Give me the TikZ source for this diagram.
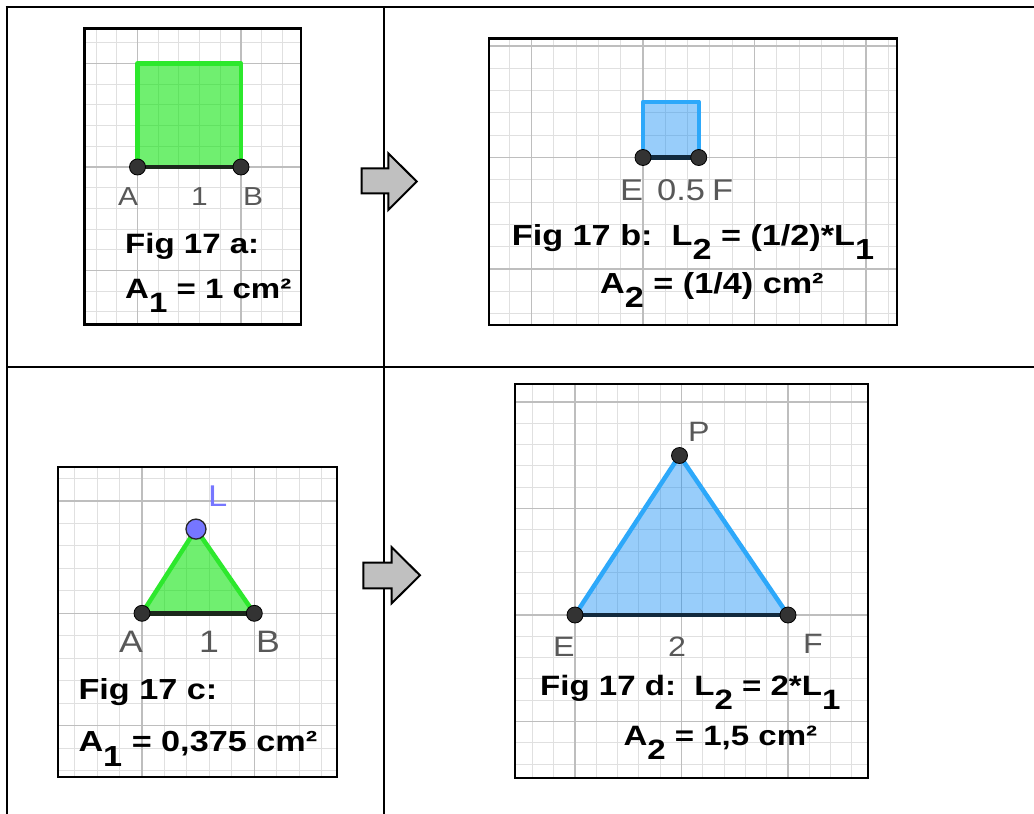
\documentclass[tikz,border=0pt]{standalone}
\usepackage{fontspec}
\usepackage{graphicx}
\newfontfamily\figfont{Liberation Sans}[FakeStretch=1.15]
\newfontfamily\figbold{Liberation Sans Bold}[FakeStretch=1.18]
\definecolor{gridminor}{RGB}{224,224,224}
\definecolor{gridmajor}{RGB}{190,190,190}
\definecolor{ggreen}{RGB}{0,228,0}
\definecolor{ggreenedge}{RGB}{45,232,45}
\definecolor{gblue}{RGB}{10,136,244}
\definecolor{gblueedge}{RGB}{45,168,250}
\definecolor{labelgray}{RGB}{88,88,88}
\definecolor{lviolet}{RGB}{118,118,255}
\definecolor{segdark}{RGB}{28,40,28}
\definecolor{segblue}{RGB}{18,42,62}
\definecolor{arrowgray}{RGB}{192,192,192}
\newcommand{\lowsub}[1]{\raisebox{-0.5em}{#1}}
\newcommand{\panelgrid}[7]{%
  \begin{scope}
    \clip (#1,#2) rectangle (#3,#4);
    \foreach \k in {-30,...,30}{
      \draw[gminor] ({#5+\k*#7/5},#2) -- ({#5+\k*#7/5},#4);
      \draw[gminor] (#1,{#6+\k*#7/5}) -- (#3,{#6+\k*#7/5});
    }
    \foreach \k in {-6,...,6}{
      \draw[gmajor] ({#5+\k*#7},#2) -- ({#5+\k*#7},#4);
      \draw[gmajor] (#1,{#6+\k*#7}) -- (#3,{#6+\k*#7});
    }
  \end{scope}
  \draw[panelbox] (#1,#2) rectangle (#3,#4);}
\tikzset{
  gminor/.style={draw=gridminor, line width=1.1pt},
  gmajor/.style={draw=gridmajor, line width=1.5pt},
  panelbox/.style={draw=black, line width=2.3pt},
  tline/.style={draw=black, line width=2.3pt},
  lab/.style={inner sep=0pt, anchor=base west, text=labelgray, font=\figfont\fontsize{#1}{#1}\selectfont},
  txt/.style={inner sep=0pt, anchor=base west, text=black, font=\figbold\fontsize{#1}{#1}\selectfont},
  dot/.style={circle, fill=black!80, draw=black, line width=0.8pt, minimum size=16pt, inner sep=0pt},
  vdot/.style={circle, fill=lviolet, draw=black!85, line width=1.3pt, minimum size=20pt, inner sep=0pt},
  greenfill/.style={fill=ggreen, fill opacity=0.56},
  bluefill/.style={fill=gblue, fill opacity=0.42},
  greenedge/.style={draw=ggreenedge, line width=4.5pt, line join=round},
  blueedge/.style={draw=gblueedge, line width=4.5pt, line join=round},
  segg/.style={draw=segdark, line width=4.5pt},
  segb/.style={draw=segblue, line width=4.5pt},
  bigarrow/.style={fill=arrowgray, draw=black, line width=2pt, line join=miter}
}
\begin{document}
\begin{tikzpicture}[x=1pt,y=-1pt]
\useasboundingbox (0,0) rectangle (1034,814);
\fill[white] (0,0) rectangle (1034,814);

% table lines
\draw[tline] (5.5,7) -- (1034,7);
\draw[tline] (6.7,5.9) -- (6.7,814);
\draw[tline] (384,7) -- (384,814);
\draw[tline] (6.7,367) -- (1034,367);

% ---------------- panel a ----------------
\panelgrid{84.5}{28.5}{301}{324.5}{137.5}{167}{103.5}
\coordinate (pA) at (137.5,167);
\coordinate (pB) at (241,167);
\coordinate (pC) at (241,63.5);
\coordinate (pD) at (137.5,63.5);
\fill[greenfill] (pA) -- (pB) -- (pC) -- (pD) -- cycle;
\draw[greenedge] (pA) -- (pD) -- (pC) -- (pB);
\draw[segg] (pA) -- (pB);
\node[dot] (A1) at (pA) {};
\node[dot] (B1) at (pB) {};
\node[lab=26] (la1) at (118,205) {A};
\node[lab=26] (l11) at (191,205) {1};
\node[lab=26] (lb1) at (243,205) {B};
\node[txt=28] (ta1) at (125,253.3) {Fig 17 a:};
\node[txt=28] (ta2) at (125,298.3) {A\lowsub{1} = 1 cm²};

% ---------------- panel b ----------------
\panelgrid{489}{38.5}{897}{325}{643}{157.5}{111.5}
\coordinate (pE) at (643,157.5);
\coordinate (pF) at (698.75,157.5);
\coordinate (pG) at (698.75,101.75);
\coordinate (pH) at (643,101.75);
\fill[bluefill] (pE) -- (pF) -- (pG) -- (pH) -- cycle;
\draw[blueedge] (pE) -- (pH) -- (pG) -- (pF);
\draw[segb] (pE) -- (pF);
\node[dot] (E2) at (pE) {};
\node[dot] (F2) at (pF) {};
\node[lab=30] (le2) at (620,200) {E};
\node[lab=30] (l052) at (657,200) {0.5};
\node[lab=30] (lf2) at (712,200) {F};
\node[txt=29] (tb1) at (511.7,245) {Fig 17 b:~~L\lowsub{2} = (1/2)*L\lowsub{1}};
\node[txt=29] (tb2) at (600,293.3) {A\lowsub{2} = (1/4) cm²};

% ---------------- panel c ----------------
\panelgrid{58.3}{467}{337}{777}{142}{613.3}{112.3}
\coordinate (qA) at (142,613.3);
\coordinate (qB) at (254.3,613.3);
\coordinate (qL) at (196,529.1);
\fill[greenfill] (qA) -- (qB) -- (qL) -- cycle;
\draw[greenedge] (qA) -- (qL) -- (qB);
\draw[segg] (qA) -- (qB);
\node[dot] (A3) at (qA) {};
\node[dot] (B3) at (qB) {};
\node[vdot] (L3) at (qL) {};
\node[lab=30, text=lviolet] (ll3) at (208,506.7) {L};
\node[lab=31] (la3) at (119,652.7) {A};
\node[lab=31] (l13) at (199,652.7) {1};
\node[lab=31] (lb3) at (256,652.7) {B};
\node[txt=29] (tc1) at (78.3,699.3) {Fig 17 c:};
\node[txt=29] (tc2) at (78.3,751.7) {A\lowsub{1} = 0,375 cm²};

% ---------------- panel d ----------------
\panelgrid{515}{384}{868}{778}{575}{615}{106.5}
\coordinate (rE) at (575,615);
\coordinate (rF) at (788,615);
\coordinate (rP) at (679.5,455.5);
\fill[bluefill] (rE) -- (rF) -- (rP) -- cycle;
\draw[blueedge] (rE) -- (rP) -- (rF);
\draw[segb] (rE) -- (rF);
\node[dot] (E4) at (rE) {};
\node[dot] (F4) at (rF) {};
\node[dot] (P4) at (rP) {};
\node[lab=28] (lp4) at (688,441.7) {P};
\node[lab=28] (le4) at (553,656) {E};
\node[lab=28] (l24) at (668,656) {2};
\node[lab=28] (lf4) at (803,653) {F};
\node[txt=28] (td1) at (540,695) {Fig 17 d:~~L\lowsub{2} = 2*L\lowsub{1}};
\node[txt=28] (td2) at (623.3,745) {A\lowsub{2} = 1,5 cm²};

% ---------------- arrows ----------------
\draw[bigarrow] (361.7,168.3) -- (388.3,168.3) -- (388.3,153.3) -- (416.7,181.5)
  -- (388.3,210) -- (388.3,193.3) -- (361.7,193.3) -- cycle;
\draw[bigarrow] (363.3,562.7) -- (391.7,562.7) -- (391.7,547.3) -- (420,575.3)
  -- (391.7,603.3) -- (391.7,588.3) -- (363.3,588.3) -- cycle;
\end{tikzpicture}
\end{document}
